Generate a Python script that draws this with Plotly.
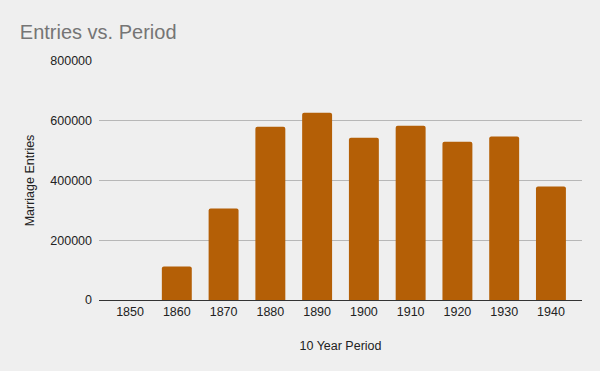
import plotly.graph_objects as go

periods = ["1850", "1860", "1870", "1880", "1890", "1900", "1910", "1920", "1930", "1940"]
entries = [0, 112500, 306000, 580000, 627000, 543500, 583500, 530000, 547000, 380000]
y_ticks = [0, 200000, 400000, 600000, 800000]

fig = go.Figure(go.Bar(
    x=periods, y=entries,
    marker=dict(color="#b45f06", cornerradius=2, line=dict(width=0)),
    width=0.64,
))

fig.update_layout(
    width=600, height=371,
    paper_bgcolor="#efefef", plot_bgcolor="#efefef",
    margin=dict(l=99, r=18, t=61, b=71),
    font=dict(family="Liberation Sans, Arial, sans-serif", size=12, color="#222222"),
    title=dict(text="Entries vs. Period", x=0.033, xanchor="left", y=0.915, yanchor="middle",
               font=dict(size=20, color="#757575")),
    showlegend=False,
)
fig.update_xaxes(
    type="category", range=[-0.664, len(periods) - 1 + 0.664],
    showgrid=False, showline=True, linecolor="#333333", linewidth=1,
    ticks="", tickfont=dict(size=12.5, color="#222222"),
    title=dict(text="10 Year Period", font=dict(size=12.5, color="#222222"), standoff=23),
)
fig.update_yaxes(
    range=[0, 800000], tickvals=y_ticks, ticktext=[str(v) for v in y_ticks],
    showgrid=True, gridcolor="#b7b7b7", gridwidth=1, zeroline=False, showline=False,
    ticks="", ticklabelstandoff=6, tickfont=dict(size=12.5, color="#222222"),
    title=dict(text="Marriage Entries", font=dict(size=12.5, color="#222222"), standoff=12),
)

fig.write_html(
    "out.html",
    config={"displayModeBar": False},
    post_script="document.body.style.margin='0';document.body.style.overflow='hidden';",
)
